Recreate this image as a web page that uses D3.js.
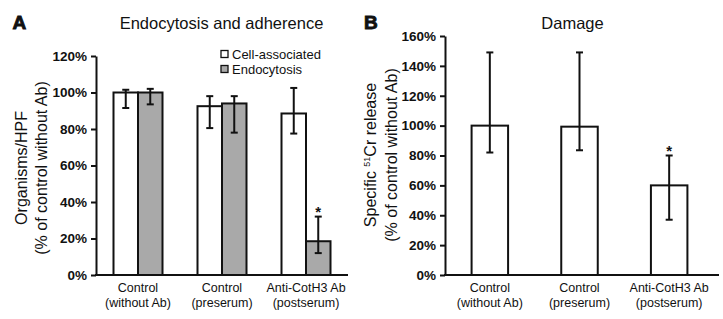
<!DOCTYPE html>
<html>
<head>
<meta charset="utf-8">
<script src="https://cdn.jsdelivr.net/npm/d3@7"></script>
<style>
  body { margin: 0; background: #fff; }
  svg { display: block; font-family: "Liberation Sans", Arial, sans-serif; }
  .axis path, .axis line { stroke: #111; stroke-width: 2; }
  .axis text { font-size: 13.5px; font-weight: bold; fill: #111; }
</style>
</head>
<body>
<script>
//Width and height
var w = 723;
var h = 319;

//Categories (two-line labels)
var categories = ["Control\n(without Ab)", "Control\n(preserum)", "Anti-CotH3 Ab\n(postserum)"];

//Panel A: endocytosis and adherence
var seriesA = ["Cell-associated", "Endocytosis"];
var cellAssoc = [100, 92.5, 88.5];
var cellLo = [91.5, 80.5, 77.5];
var cellHi = [101.5, 98, 102.5];
var endo = [100, 94, 18.5];
var endoLo = [93.5, 78, 12];
var endoHi = [102, 98, 32];
var endoSig = [false, false, true];
var yTicksA = [0, 20, 40, 60, 80, 100, 120];

//Panel B: damage
var damage = [100, 99.3, 60];
var damageLo = [82, 83.5, 37];
var damageHi = [149, 149, 80];
var damageSig = [false, false, true];
var yTicksB = [0, 20, 40, 60, 80, 100, 120, 140, 160];

var fills = ["#ffffff", "#a9a9a9"];

var svg = d3.select("body")
  .append("svg")
  .attr("width", w)
  .attr("height", h);

//Helper: error bar
function errBar(g, x, lo, hi, yScale) {
  g.append("line")
    .attr("x1", x).attr("x2", x)
    .attr("y1", yScale(lo)).attr("y2", yScale(hi))
    .attr("stroke", "#111").attr("stroke-width", 2);
  [lo, hi].forEach(function(v) {
    g.append("line")
      .attr("x1", x - 3.5).attr("x2", x + 3.5)
      .attr("y1", yScale(v)).attr("y2", yScale(v))
      .attr("stroke", "#111").attr("stroke-width", 2);
  });
}

//Helper: x labels
function xLabels(g, xScale, y0) {
  categories.forEach(function(c) {
    var parts = c.split("\n");
    var t = g.append("text")
      .attr("x", xScale(c) + xScale.bandwidth() / 2)
      .attr("y", y0)
      .attr("text-anchor", "middle")
      .attr("font-size", "12.5px")
      .attr("fill", "#111");
    parts.forEach(function(p, i) {
      t.append("tspan")
        .attr("x", xScale(c) + xScale.bandwidth() / 2)
        .attr("dy", i === 0 ? 0 : 15.2)
        .text(p);
    });
  });
}

//Helper: significance star
function star(g, x, y) {
  g.append("text")
    .attr("x", x).attr("y", y + 0.5)
    .attr("text-anchor", "middle")
    .attr("font-size", "15px").attr("font-weight", "bold")
    .attr("fill", "#111")
    .text("*");
}

// ---------------- Panel A ----------------
var gA = svg.append("g");

var xA = d3.scaleBand().domain(categories).range([96, 348]).padding(0);
var xSubA = d3.scaleBand().domain(seriesA).range([-24.5, 24.5]).padding(0);
var yA = d3.scaleLinear().domain([0, 120]).range([275, 56]);

var rowsA = categories.map(function(c, i) {
  return [
    { cat: c, s: seriesA[0], v: cellAssoc[i], lo: cellLo[i], hi: cellHi[i], sig: false },
    { cat: c, s: seriesA[1], v: endo[i], lo: endoLo[i], hi: endoHi[i], sig: endoSig[i] }
  ];
});
var barsA = [].concat.apply([], rowsA);

gA.selectAll("rect.bar")
  .data(barsA)
  .enter()
  .append("rect")
  .attr("class", "bar")
  .attr("x", d => xA(d.cat) + xA.bandwidth() / 2 + xSubA(d.s))
  .attr("y", d => yA(d.v))
  .attr("width", xSubA.bandwidth())
  .attr("height", d => yA(0) - yA(d.v))
  .attr("fill", d => fills[seriesA.indexOf(d.s)])
  .attr("stroke", "#111")
  .attr("stroke-width", 2);

barsA.forEach(function(d) {
  var cx = xA(d.cat) + xA.bandwidth() / 2 + xSubA(d.s) + xSubA.bandwidth() / 2;
  errBar(gA, cx, d.lo, d.hi, yA);
  if (d.sig) star(gA, cx, yA(d.hi));
});

//Y axis
gA.append("g")
  .attr("class", "axis")
  .attr("transform", "translate(96,0)")
  .call(d3.axisLeft(yA).tickValues(yTicksA).tickSize(5).tickSizeOuter(0).tickPadding(4)
    .tickFormat(d => d + "%"));

//X axis line
gA.append("line")
  .attr("x1", 95).attr("x2", 348)
  .attr("y1", yA(0)).attr("y2", yA(0))
  .attr("stroke", "#111").attr("stroke-width", 2);

xLabels(gA, xA, 291.5);

//Title and letter
gA.append("text").attr("x", 221.5).attr("y", 29).attr("text-anchor", "middle")
  .attr("font-size", "16.5px").attr("fill", "#111").text("Endocytosis and adherence");
gA.append("text").attr("x", 12.5).attr("y", 29)
  .attr("font-size", "19px").attr("font-weight", "bold").attr("fill", "#111")
  .attr("stroke", "#111").attr("stroke-width", 0.9).text("A");

//Y label
var ylA = gA.append("text")
  .attr("transform", "translate(27,168) rotate(-90)")
  .attr("text-anchor", "middle")
  .attr("font-size", "16px").attr("fill", "#111");
ylA.append("tspan").attr("x", 0).attr("dy", 0).text("Organisms/HPF");
ylA.append("tspan").attr("x", 0).attr("dy", 20).text("(% of control without Ab)");

//Legend
seriesA.forEach(function(s, i) {
  var ly = 54.5 + i * 15;
  gA.append("rect")
    .attr("x", 221).attr("y", ly - 4)
    .attr("width", 7).attr("height", 7)
    .attr("fill", fills[i]).attr("stroke", "#111").attr("stroke-width", 1.3);
  gA.append("text")
    .attr("x", 232).attr("y", ly + 4.5)
    .attr("font-size", "13px").attr("fill", "#111").text(s);
});

// ---------------- Panel B ----------------
var gB = svg.append("g");

var xB = d3.scaleBand().domain(categories).range([445, 714]).padding(0);
var yB = d3.scaleLinear().domain([0, 160]).range([275, 36]);
var barW = 36.5;

var barsB = categories.map(function(c, i) {
  return { cat: c, v: damage[i], lo: damageLo[i], hi: damageHi[i], sig: damageSig[i] };
});

gB.selectAll("rect.bar")
  .data(barsB)
  .enter()
  .append("rect")
  .attr("class", "bar")
  .attr("x", d => xB(d.cat) + xB.bandwidth() / 2 - barW / 2)
  .attr("y", d => yB(d.v))
  .attr("width", barW)
  .attr("height", d => yB(0) - yB(d.v))
  .attr("fill", "#fff")
  .attr("stroke", "#111")
  .attr("stroke-width", 2);

barsB.forEach(function(d) {
  var cx = xB(d.cat) + xB.bandwidth() / 2;
  errBar(gB, cx, d.lo, d.hi, yB);
  if (d.sig) star(gB, cx, yB(d.hi));
});

gB.append("g")
  .attr("class", "axis")
  .attr("transform", "translate(445,0)")
  .call(d3.axisLeft(yB).tickValues(yTicksB).tickSize(5).tickSizeOuter(0).tickPadding(4)
    .tickFormat(d => d + "%"));

gB.append("line")
  .attr("x1", 444).attr("x2", 719)
  .attr("y1", yB(0)).attr("y2", yB(0))
  .attr("stroke", "#111").attr("stroke-width", 2);

xLabels(gB, xB, 291.5);

gB.append("text").attr("x", 572.5).attr("y", 29).attr("text-anchor", "middle")
  .attr("font-size", "16.5px").attr("fill", "#111").text("Damage");
gB.append("text").attr("x", 364).attr("y", 29)
  .attr("font-size", "19px").attr("font-weight", "bold").attr("fill", "#111")
  .attr("stroke", "#111").attr("stroke-width", 0.9).text("B");

var ylB = gB.append("text")
  .attr("transform", "translate(376,155) rotate(-90)")
  .attr("text-anchor", "middle")
  .attr("font-size", "16px").attr("fill", "#111");
var l1 = ylB.append("tspan").attr("x", 0).attr("dy", 0);
l1.append("tspan").text("Specific ");
l1.append("tspan").attr("font-size", "9px").attr("dy", -6).text("51");
l1.append("tspan").attr("dy", 6).text("Cr release");
ylB.append("tspan").attr("x", 0).attr("dy", 21).text("(% of control without Ab)");
</script>
</body>
</html>
